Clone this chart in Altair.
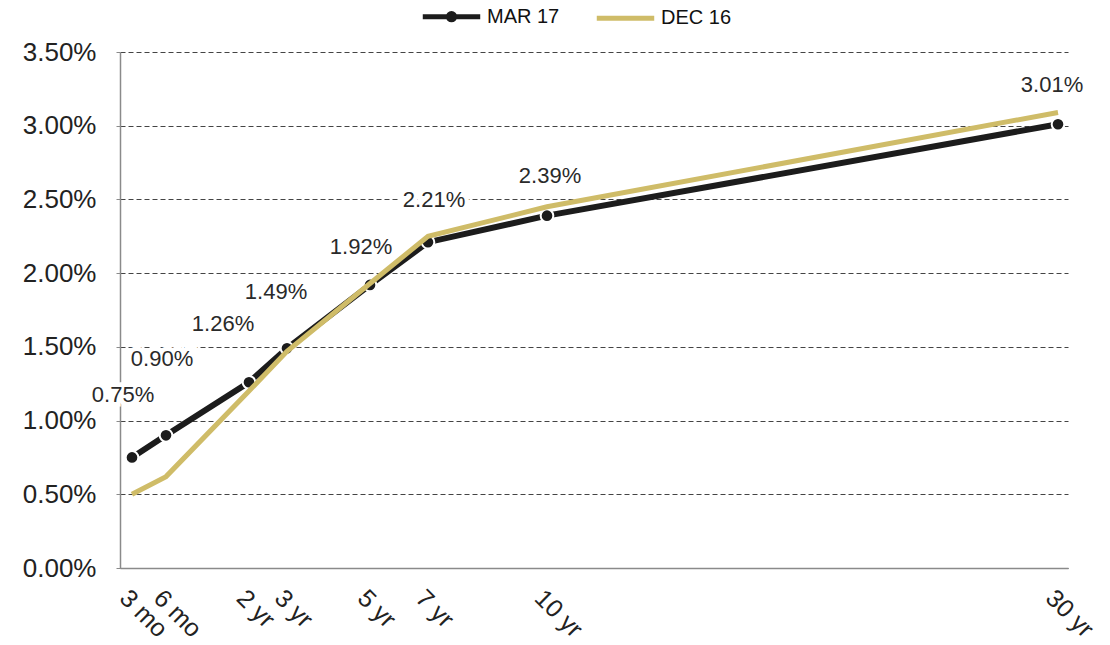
import altair as alt
import pandas as pd

# ---- data ----
tenors = ["3 mo", "6 mo", "2 yr", "3 yr", "5 yr", "7 yr", "10 yr", "30 yr"]
# position of each tenor on the original (unevenly spaced) horizontal axis
tenor_axis_pos = [12, 46, 129, 167, 250, 308, 427, 938]
mar17 = [0.75, 0.90, 1.26, 1.49, 1.92, 2.21, 2.39, 3.01]
dec16 = [0.50, 0.62, 1.20, 1.47, 1.93, 2.25, 2.45, 3.09]
series_names = ["MAR 17", "DEC 16"]
series_colors = ["#1c1c1c", "#cfbc68"]
y_ticks = [0.0, 0.5, 1.0, 1.5, 2.0, 2.5, 3.0, 3.5]

# styling: nudges (dx, dy) of the value labels relative to their points
label_nudge = {
    "3 mo": (-9, -62), "6 mo": (-4, -76), "2 yr": (-26, -58), "3 yr": (-11, -56),
    "5 yr": (-9, -38), "7 yr": (6, -42), "10 yr": (3, -40), "30 yr": (-6, -39),
}

rows = []
for name, vals in zip(series_names, [mar17, dec16]):
    for t, p, v in zip(tenors, tenor_axis_pos, vals):
        rows.append({"series": name, "tenor": t, "pos": p, "value": v})
df = pd.DataFrame(rows)

FONT = "Liberation Sans"

label_expr = " : ".join(
    f"datum.value == {p} ? '{t}'" for p, t in zip(tenor_axis_pos, tenors)
) + " : ''"

x_enc = alt.X(
    "pos:Q",
    scale=alt.Scale(domain=[0, 948], nice=False, zero=False),
    axis=alt.Axis(
        values=tenor_axis_pos,
        labelExpr=label_expr,
        labelAngle=45,
        labelAlign="left",
        labelBaseline="top",
        labelFontSize=25,
        labelFont=FONT,
        labelColor="#222222",
        labelPadding=17,
        labelOverlap=False,
        labelFlush=False,
        ticks=False,
        grid=False,
        domainColor="#8a8a8a",
        domainWidth=1.5,
        title=None,
    ),
)
y_enc = alt.Y(
    "value:Q",
    scale=alt.Scale(domain=[0, 3.5], nice=False),
    axis=alt.Axis(
        values=y_ticks,
        labelExpr="format(datum.value, '.2f') + '%'",
        labelFontSize=26,
        labelFont=FONT,
        labelColor="#222222",
        labelPadding=20,
        tickSize=4,
        tickColor="#8a8a8a",
        domainColor="#8a8a8a",
        domainWidth=1.5,
        gridColor="#444444",
        gridDash=[5, 3],
        gridWidth=1,
        title=None,
    ),
)

mar_symbol = "M-1,0H1M-0.11,0A0.11,0.11 0 1,1 0.11,0A0.11,0.11 0 1,1 -0.11,0Z"
color_enc = alt.Color(
    "series:N",
    scale=alt.Scale(domain=series_names, range=series_colors),
    legend=alt.Legend(
        title=None,
        orient="none",
        direction="horizontal",
        legendX=300,
        legendY=-67,
        symbolType=alt.ExprRef(
            expr=f"datum.value == 'MAR 17' ? '{mar_symbol}' : 'stroke'"
        ),
        symbolSize=3300,
        symbolStrokeWidth=5,
        labelFontSize=20,
        labelFont=FONT,
        labelColor="#111111",
        labelOffset=4,
        columnPadding=26,
    ),
)

base = alt.Chart(df)

mar_line = base.transform_filter(alt.datum.series == "MAR 17").mark_line(
    strokeWidth=6
).encode(x=x_enc, y=y_enc, color=color_enc)

mar_pts = base.transform_filter(alt.datum.series == "MAR 17").mark_circle(
    size=160, color="#1c1c1c", opacity=1, stroke="white", strokeWidth=2
).encode(x="pos:Q", y="value:Q")

dec_line = base.transform_filter(alt.datum.series == "DEC 16").mark_line(
    strokeWidth=5
).encode(x="pos:Q", y="value:Q", color=color_enc)

layers = [mar_line, mar_pts, dec_line]
for t in tenors:
    dx, dy = label_nudge[t]
    lab_base = base.transform_filter(
        (alt.datum.series == "MAR 17") & (alt.datum.tenor == t)
    ).transform_calculate(lbl="format(datum.value, '.2f') + '%'")
    layers.append(
        lab_base.mark_text(
            fontSize=22, font=FONT, dx=dx, dy=dy,
            fill="white", stroke="white", strokeWidth=9,
        ).encode(x="pos:Q", y="value:Q", text="lbl:N")
    )
    layers.append(
        lab_base.mark_text(
            fontSize=22, font=FONT, dx=dx, dy=dy, color="#2a2a2a"
        ).encode(x="pos:Q", y="value:Q", text="lbl:N")
    )

chart = alt.layer(*layers).properties(
    width=948,
    height=516,
    autosize=alt.AutoSizeParams(type="none"),
    padding={"left": 120, "top": 52, "right": 42, "bottom": 77},
    background="white",
).configure_view(stroke=None)

chart.save("out.html", embed_options={"renderer": "svg", "actions": False})
